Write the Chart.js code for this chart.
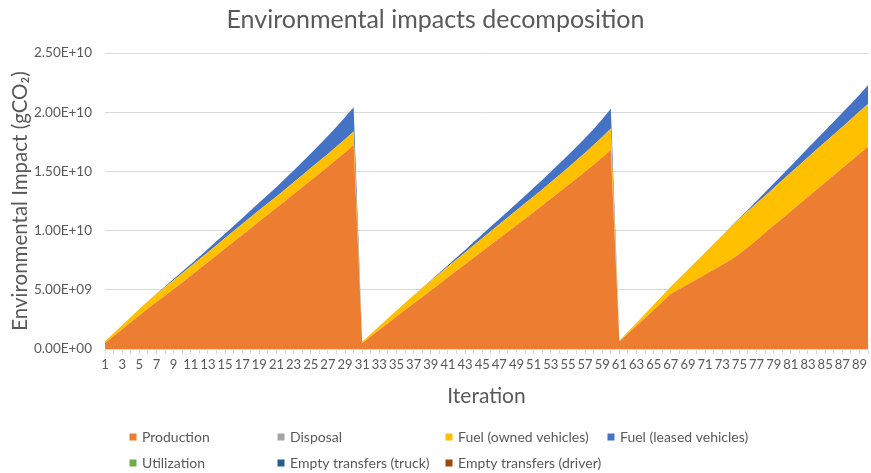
<!DOCTYPE html>
<html>
<head>
<meta charset="utf-8">
<title>Environmental impacts decomposition</title>
<script src="https://cdn.jsdelivr.net/npm/chart.js@4.4.1/dist/chart.umd.min.js"></script>
<style>
  html, body { margin: 0; padding: 0; background: #ffffff; }
  #wrap { width: 871px; height: 473px; position: relative; }
</style>
</head>
<body>
<div id="wrap"><canvas id="chart" width="871" height="473"></canvas></div>
<script>
// Iterations 1..90 (three runs of 30 iterations)
const iterations = Array.from({ length: 90 }, (_, i) => String(i + 1));

// Impact per source, in 1e9 gCO2, cumulative over each run
const production = [
  0.50, 1.08, 1.66, 2.25, 2.83, 3.42, 3.98, 4.50, 5.06, 5.62, 6.18, 6.75, 7.32, 7.90, 8.48, 9.05, 9.62, 10.20, 10.78, 11.35, 11.92, 12.50, 13.08, 13.66, 14.24, 14.82, 15.40, 16.00, 16.60, 17.22,
  0.50, 1.05, 1.62, 2.18, 2.74, 3.30, 3.85, 4.40, 4.95, 5.50, 6.05, 6.60, 7.15, 7.70, 8.25, 8.80, 9.35, 9.90, 10.45, 11.00, 11.56, 12.12, 12.68, 13.25, 13.82, 14.40, 14.98, 15.57, 16.17, 16.80,
  0.64, 1.30, 1.96, 2.62, 3.30, 3.98, 4.66, 5.06, 5.47, 5.88, 6.29, 6.70, 7.11, 7.53, 8.02, 8.60, 9.21, 9.82, 10.43, 11.03, 11.64, 12.25, 12.86, 13.46, 14.07, 14.67, 15.28, 15.88, 16.49, 17.09
];
const disposal = [
  0,0,0,0,0,0,0,0,0,0,0,0,0,0,0,0,0,0,0,0,0,0,0,0,0,0,0,0,0,0,
  0,0,0,0,0,0,0,0,0,0,0,0,0,0,0,0,0,0,0,0,0,0,0,0,0,0,0,0,0,0,
  0,0,0,0,0,0,0,0,0,0,0,0,0,0,0,0,0,0,0,0,0,0,0,0,0,0,0,0,0,0
];
const fuelOwned = [
  0.15, 0.25, 0.35, 0.45, 0.55, 0.62, 0.68, 0.72, 0.75, 0.78, 0.80, 0.82, 0.85, 0.87, 0.89, 0.91, 0.93, 0.94, 0.95, 0.96, 0.97, 0.98, 1.00, 1.02, 1.04, 1.06, 1.08, 1.10, 1.12, 1.14,
  0.12, 0.22, 0.32, 0.42, 0.52, 0.60, 0.68, 0.75, 0.81, 0.86, 0.91, 0.96, 1.01, 1.06, 1.10, 1.14, 1.18, 1.22, 1.26, 1.30, 1.33, 1.36, 1.40, 1.44, 1.49, 1.54, 1.60, 1.66, 1.74, 1.83,
  0.06, 0.16, 0.26, 0.36, 0.44, 0.52, 0.62, 0.94, 1.25, 1.56, 1.87, 2.18, 2.49, 2.81, 2.98, 3.05, 3.09, 3.13, 3.17, 3.22, 3.26, 3.30, 3.34, 3.38, 3.41, 3.45, 3.48, 3.52, 3.56, 3.61
];
const fuelLeased = [
  0, 0, 0, 0, 0, 0, 0.02, 0.06, 0.10, 0.14, 0.18, 0.22, 0.27, 0.32, 0.37, 0.43, 0.50, 0.57, 0.64, 0.72, 0.80, 0.90, 1.00, 1.12, 1.24, 1.38, 1.52, 1.68, 1.85, 2.05,
  0, 0, 0, 0, 0, 0, 0, 0.02, 0.05, 0.08, 0.12, 0.16, 0.21, 0.27, 0.33, 0.40, 0.46, 0.52, 0.58, 0.65, 0.72, 0.80, 0.88, 0.98, 1.06, 1.15, 1.25, 1.36, 1.50, 1.67,
  0, 0, 0, 0, 0, 0, 0, 0, 0, 0, 0, 0, 0, 0.02, 0.06, 0.12, 0.20, 0.28, 0.37, 0.46, 0.56, 0.66, 0.78, 0.88, 0.98, 1.08, 1.19, 1.30, 1.42, 1.58
];
const utilization = [
  0,0,0,0,0,0,0,0,0,0,0,0,0,0,0,0,0,0,0,0,0,0,0,0,0,0,0,0,0,0,
  0,0,0,0,0,0,0,0,0,0,0,0,0,0,0,0,0,0,0,0,0,0,0,0,0,0,0,0,0,0,
  0,0,0,0,0,0,0,0,0,0,0,0,0,0,0,0,0,0,0,0,0,0,0,0,0,0,0,0,0,0
];
const emptyTruck = [
  0,0,0,0,0,0,0,0,0,0,0,0,0,0,0,0,0,0,0,0,0,0,0,0,0,0,0,0,0,0,
  0,0,0,0,0,0,0,0,0,0,0,0,0,0,0,0,0,0,0,0,0,0,0,0,0,0,0,0,0,0,
  0,0,0,0,0,0,0,0,0,0,0,0,0,0,0,0,0,0,0,0,0,0,0,0,0,0,0,0,0,0
];
const emptyDriver = [
  0,0,0,0,0,0,0,0,0,0,0,0,0,0,0,0,0,0,0,0,0,0,0,0,0,0,0,0,0,0,
  0,0,0,0,0,0,0,0,0,0,0,0,0,0,0,0,0,0,0,0,0,0,0,0,0,0,0,0,0,0,
  0,0,0,0,0,0,0,0,0,0,0,0,0,0,0,0,0,0,0,0,0,0,0,0,0,0,0,0,0,0
];

const seriesNames = ['Production', 'Disposal', 'Fuel (owned vehicles)', 'Fuel (leased vehicles)',
                     'Utilization', 'Empty transfers (truck)', 'Empty transfers (driver)'];
const seriesValues = [production, disposal, fuelOwned, fuelLeased, utilization, emptyTruck, emptyDriver];
const seriesColors = ['#ED7D31', '#A5A5A5', '#FFC000', '#4472C4', '#70AD47', '#255E91', '#9E480E'];

const yTicks = { min: 0, max: 2.5e10, step: 5e9 };

const TEXT = '#595959';
const GRID = '#d9d9d9';
const FONT = 'Lato, "Open Sans", sans-serif';

function sciLabel(v) {
  if (v === 0) return '0.00E+00';
  const parts = v.toExponential(2).split('e');
  const e = parseInt(parts[1], 10);
  return parts[0] + 'E' + (e < 0 ? '-' : '+') + String(Math.abs(e)).padStart(2, '0');
}

// Two-row legend laid out in columns below the axis title
const gridLegend = {
  id: 'gridLegend',
  afterDraw(chart, args, opts) {
    const ctx = chart.ctx;
    ctx.save();
    ctx.font = '14px ' + FONT;
    ctx.textBaseline = 'middle';
    ctx.textAlign = 'left';
    chart.data.datasets.forEach((ds, i) => {
      const row = Math.floor(i / opts.columns.length);
      const col = i % opts.columns.length;
      const x = opts.columns[col];
      const y = opts.rows[row];
      ctx.fillStyle = ds.backgroundColor;
      ctx.fillRect(x - 3.5, y - 3.5, 7, 7);
      ctx.fillStyle = TEXT;
      ctx.fillText(ds.label, x + 9, y + 0.5);
    });
    ctx.restore();
  }
};

const datasets = seriesNames.map((name, i) => ({
  label: name,
  data: seriesValues[i].map(v => v * 1e9),
  backgroundColor: seriesColors[i],
  borderColor: 'rgba(0,0,0,0)',
  borderWidth: 0,
  pointRadius: 0,
  pointHoverRadius: 0,
  tension: 0,
  fill: i === 0 ? 'origin' : '-1'
}));

new Chart(document.getElementById('chart'), {
  type: 'line',
  data: { labels: iterations, datasets },
  plugins: [gridLegend],
  options: {
    responsive: false,
    animation: false,
    layout: { padding: { left: 0, right: 0, top: 0, bottom: 63 } },
    plugins: {
      legend: { display: false },
      tooltip: { enabled: false },
      title: {
        display: true,
        text: 'Environmental impacts decomposition',
        color: TEXT,
        font: { family: FONT, size: 25, weight: 'normal' },
        padding: { top: 5, bottom: 18 }
      },
      gridLegend: { columns: [133, 281, 449, 611], rows: [437, 463] }
    },
    scales: {
      x: {
        offset: false,
        grid: { display: true, drawOnChartArea: false, drawTicks: true, tickLength: 5, color: GRID },
        border: { display: true, color: GRID },
        ticks: {
          autoSkip: false, maxRotation: 0, minRotation: 0, padding: 3,
          color: TEXT, font: { family: FONT, size: 13 },
          callback(value, index) { return index % 2 === 0 ? this.getLabelForValue(value) : ''; }
        },
        title: {
          display: true, text: 'Iteration', color: TEXT,
          font: { family: FONT, size: 21 }, padding: { top: 0, bottom: 1 }
        },
        afterFit(scale) { scale.height = 61; }
      },
      y: {
        stacked: true,
        min: yTicks.min, max: yTicks.max,
        grid: { color: GRID, drawTicks: false },
        border: { display: false },
        ticks: {
          stepSize: yTicks.step, padding: 13, color: TEXT,
          font: { family: FONT, size: 13.5 },
          callback: v => sciLabel(v)
        },
        title: {
          display: true, text: 'Environmental Impact (gCO\u2082)', color: TEXT,
          font: { family: FONT, size: 20.5 }, padding: { top: 8, bottom: 0 }
        },
        afterFit(scale) { scale.width = 105; }
      }
    }
  }
});
</script>
</body>
</html>
